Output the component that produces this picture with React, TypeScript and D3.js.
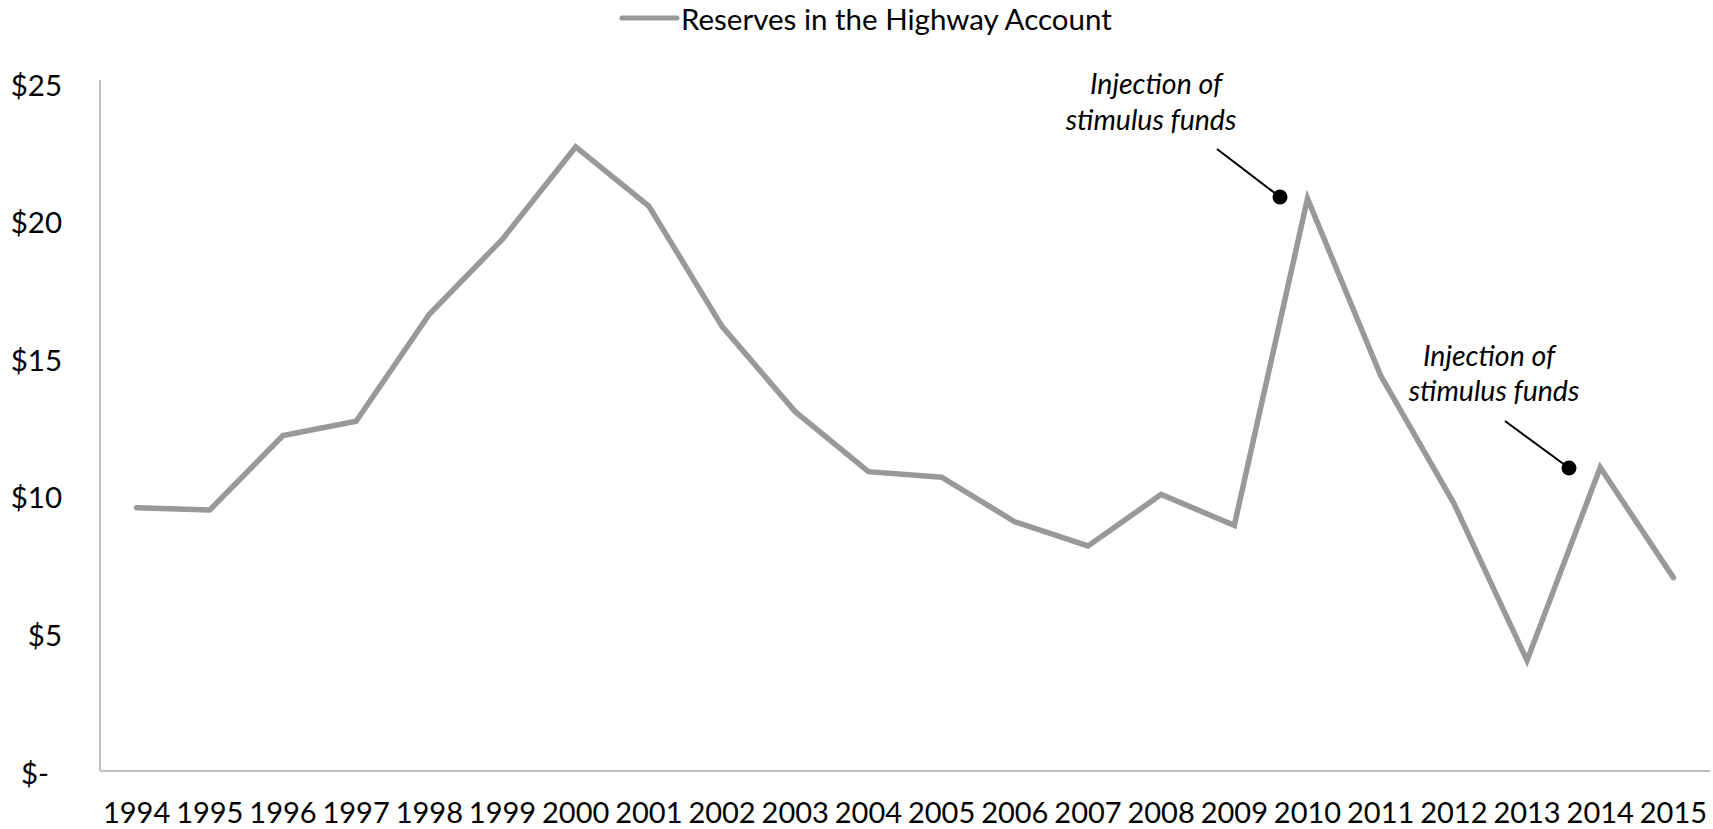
import React from "react";
import * as d3 from "d3";

const years = ["1994","1995","1996","1997","1998","1999","2000","2001","2002","2003","2004","2005","2006","2007","2008","2009","2010","2011","2012","2013","2014","2015"];
const reserves = [9.64,9.56,12.26,12.78,16.67,19.4,22.75,20.6,16.23,13.13,10.95,10.75,9.13,8.25,10.12,9.0,20.87,14.44,9.8,4.09,11.1,7.1];
const yTicks = [0,5,10,15,20,25];
const legendLabel = "Reserves in the Highway Account";
const annotationLines = ["Injection of", "stimulus funds"];

const W = 1713, H = 829;
const left = 100, right = 1710, top = 85, bottom = 773;
const font = "Lato, 'Open Sans', sans-serif";

export default function App() {
  const x = d3.scaleBand<string>().domain(years).range([left, right]);
  const y = d3.scaleLinear().domain([0, 25]).range([bottom, top]);
  const cx = (yr: string) => (x(yr) as number) + x.bandwidth() / 2;
  const line = d3.line<number>()
    .x((_, i) => cx(years[i]))
    .y(d => y(d));

  const annotations = [
    { t1x: 1156, t1y: 94, t2x: 1151, t2y: 130, lx1: 1217, ly1: 149, lx2: 1280, ly2: 197 },
    { t1x: 1489, t1y: 366, t2x: 1494, t2y: 401, lx1: 1505, ly1: 421, lx2: 1569, ly2: 468 },
  ];

  return (
    <svg width={W} height={H} style={{ position: "absolute", left: 0, top: 0, background: "#fff" }}>
      {/* legend */}
      <line x1={622} x2={677} y1={18} y2={18} stroke="#999" strokeWidth={5} strokeLinecap="round" />
      <text x={681} y={30} fontFamily={font} fontSize={29.5} fill="#000">{legendLabel}</text>

      {/* axes */}
      <line x1={left} x2={left} y1={top - 5} y2={bottom - 2} stroke="#bfbfbf" strokeWidth={2} />
      <line x1={left} x2={right} y1={bottom - 2} y2={bottom - 2} stroke="#bfbfbf" strokeWidth={2} />

      {yTicks.map(t => (
        <text key={t} x={t === 0 ? 49 : 62} y={y(t) + 10.5} textAnchor="end"
          fontFamily={font} fontSize={29.5} fill="#000">
          {t === 0 ? "$-" : `$${t}`}
        </text>
      ))}

      {years.map(yr => (
        <text key={yr} x={cx(yr)} y={823}
          textAnchor="middle" fontFamily={font} fontSize={29} fill="#000">{yr}</text>
      ))}

      <path d={line(reserves) || ""} fill="none" stroke="#999" strokeWidth={5.5} strokeLinejoin="miter" strokeLinecap="round" />

      {annotations.map((a, i) => (
        <g key={i} fontFamily={font} fontStyle="italic" fontSize={28.5} fill="#000">
          <text x={a.t1x} y={a.t1y} textAnchor="middle">{annotationLines[0]}</text>
          <text x={a.t2x} y={a.t2y} textAnchor="middle">{annotationLines[1]}</text>
          <line x1={a.lx1} y1={a.ly1} x2={a.lx2} y2={a.ly2} stroke="#000" strokeWidth={2} />
          <circle cx={a.lx2} cy={a.ly2} r={7.5} fill="#000" />
        </g>
      ))}
    </svg>
  );
}
